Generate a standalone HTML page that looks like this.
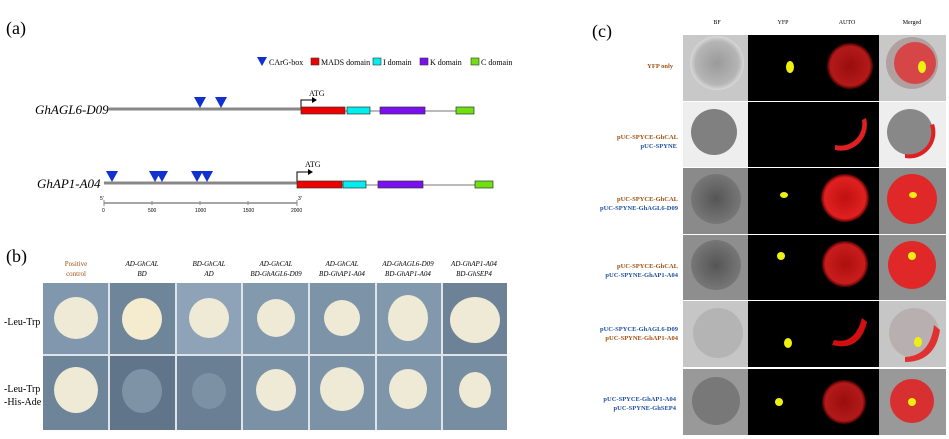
<!DOCTYPE html>
<html><head><style>
body{margin:0;background:#fff;}
svg{display:block;font-family:"Liberation Serif",serif;}
</style></head><body>
<svg width="949" height="439" viewBox="0 0 949 439" xmlns="http://www.w3.org/2000/svg">
<defs>
<radialGradient id="bf1" cx="50%" cy="50%" r="50%"><stop offset="0" stop-color="#9a9a9a"/><stop offset="0.8" stop-color="#b5b5b5"/><stop offset="1" stop-color="#d8d8d8"/></radialGradient>
<radialGradient id="dk" cx="50%" cy="50%" r="50%"><stop offset="0" stop-color="#555"/><stop offset="1" stop-color="#777"/></radialGradient>
<radialGradient id="red" cx="50%" cy="50%" r="50%"><stop offset="0" stop-color="#c01010"/><stop offset="0.85" stop-color="#e02020"/><stop offset="1" stop-color="#500"/></radialGradient>
</defs>
<text x="6" y="34" font-size="18">(a)</text>
<text x="6" y="262" font-size="18">(b)</text>
<text x="592" y="37" font-size="18">(c)</text>

<polygon points="257,57 267,57 262,66" fill="#1030d0"/>
<text x="269" y="65" font-size="8">CArG-box</text>
<rect x="311" y="58" width="8" height="7" fill="#e00" stroke="#333" stroke-width="0.6"/>
<text x="321" y="65" font-size="8">MADS domain</text>
<rect x="373" y="58" width="8" height="7" fill="#0ee" stroke="#333" stroke-width="0.6"/>
<text x="383" y="65" font-size="8">I domain</text>
<rect x="420" y="58" width="8" height="7" fill="#7a10f0" stroke="#333" stroke-width="0.6"/>
<text x="430" y="65" font-size="8">K domain</text>
<rect x="471" y="58" width="8" height="7" fill="#70e010" stroke="#333" stroke-width="0.6"/>
<text x="481" y="65" font-size="8">C domain</text>

<text x="35" y="114" font-size="13" font-style="italic">GhAGL6-D09</text>
<line x1="108" y1="109" x2="301" y2="109" stroke="#888" stroke-width="3"/>
<line x1="301" y1="111" x2="474" y2="111" stroke="#777" stroke-width="1"/>
<polygon points="194,97 206,97 200,108" fill="#1030d0"/>
<polygon points="215,97 227,97 221,108" fill="#1030d0"/>
<polyline points="301,108 301,100 313,100" fill="none" stroke="#000" stroke-width="1"/>
<polygon points="312,97 317,100 312,103" fill="#000"/>
<text x="309" y="96" font-size="8">ATG</text>
<rect x="301" y="107" width="44" height="7" fill="#e00" stroke="#333" stroke-width="0.7"/>
<rect x="347" y="107" width="23" height="7" fill="#0ee" stroke="#333" stroke-width="0.7"/>
<rect x="380" y="107" width="45" height="7" fill="#7a10f0" stroke="#333" stroke-width="0.7"/>
<rect x="456" y="107" width="18" height="7" fill="#70e010" stroke="#333" stroke-width="0.7"/>

<text x="37" y="188" font-size="13" font-style="italic">GhAP1-A04</text>
<line x1="104" y1="183" x2="297" y2="183" stroke="#888" stroke-width="3"/>
<line x1="297" y1="185" x2="493" y2="185" stroke="#777" stroke-width="1"/>
<polygon points="106,171 118,171 112,182" fill="#1030d0"/>
<polygon points="149,171 161,171 155,182" fill="#1030d0"/>
<polygon points="156,171 168,171 162,182" fill="#1030d0"/>
<polygon points="191,171 203,171 197,182" fill="#1030d0"/>
<polygon points="201,171 213,171 207,182" fill="#1030d0"/>
<polyline points="297,182 297,172 309,172" fill="none" stroke="#000" stroke-width="1"/>
<polygon points="308,169 313,172 308,175" fill="#000"/>
<text x="305" y="167" font-size="8">ATG</text>
<rect x="297" y="181" width="45" height="7" fill="#e00" stroke="#333" stroke-width="0.7"/>
<rect x="343" y="181" width="23" height="7" fill="#0ee" stroke="#333" stroke-width="0.7"/>
<rect x="378" y="181" width="45" height="7" fill="#7a10f0" stroke="#333" stroke-width="0.7"/>
<rect x="475" y="181" width="18" height="7" fill="#70e010" stroke="#333" stroke-width="0.7"/>

<line x1="104" y1="203" x2="297" y2="203" stroke="#888" stroke-width="1.5"/>
<g stroke="#888" stroke-width="1"><line x1="104" y1="200" x2="104" y2="206"/><line x1="152" y1="201" x2="152" y2="205"/><line x1="200" y1="201" x2="200" y2="205"/><line x1="248" y1="201" x2="248" y2="205"/><line x1="297" y1="200" x2="297" y2="206"/></g>
<g font-size="5" font-family="Liberation Sans,sans-serif"><text x="100" y="200">5'</text><text x="298" y="200">3'</text>
<text x="102" y="212">0</text><text x="148" y="212">500</text><text x="195" y="212">1000</text><text x="243" y="212">1500</text><text x="291" y="212">2000</text></g>

<g font-size="7" text-anchor="middle" font-style="italic">
<text x="76" y="266" font-style="normal" fill="#a05010">Positive</text><text x="76" y="276" font-style="normal" fill="#a05010">control</text>
<text x="142" y="266">AD-GhCAL</text><text x="142" y="276">BD</text>
<text x="209" y="266">BD-GhCAL</text><text x="209" y="276">AD</text>
<text x="276" y="266">AD-GhCAL</text><text x="276" y="276">BD-GhAGL6-D09</text>
<text x="342" y="266">AD-GhCAL</text><text x="342" y="276">BD-GhAP1-A04</text>
<text x="408" y="266">AD-GhAGL6-D09</text><text x="408" y="276">BD-GhAP1-A04</text>
<text x="474" y="266">AD-GhAP1-A04</text><text x="474" y="276">BD-GhSEP4</text>
</g>
<text x="4" y="325" font-size="10">-Leu-Trp</text>
<text x="4" y="392" font-size="10">-Leu-Trp</text>
<text x="4" y="405" font-size="10">-His-Ade</text>

<rect x="43" y="283" width="464" height="147" fill="#dfe4ea"/>
<g>
<rect x="43" y="283" width="65" height="71" fill="#8197ad"/>
<rect x="110" y="283" width="65" height="71" fill="#6f8599"/>
<rect x="177" y="283" width="64" height="71" fill="#8ea3b8"/>
<rect x="243" y="283" width="65" height="71" fill="#8399ae"/>
<rect x="310" y="283" width="65" height="71" fill="#7d93a8"/>
<rect x="377" y="283" width="64" height="71" fill="#8298ac"/>
<rect x="443" y="283" width="64" height="71" fill="#6d8296"/>
<rect x="43" y="356" width="65" height="74" fill="#6e8499"/>
<rect x="110" y="356" width="65" height="74" fill="#607589"/>
<rect x="177" y="356" width="64" height="74" fill="#6a7f93"/>
<rect x="243" y="356" width="65" height="74" fill="#7b91a6"/>
<rect x="310" y="356" width="65" height="74" fill="#7c92a7"/>
<rect x="377" y="356" width="64" height="74" fill="#7f95aa"/>
<rect x="443" y="356" width="64" height="74" fill="#778da2"/>
</g>
<g fill="#efead5">
<ellipse cx="76" cy="318" rx="22" ry="21"/>
<ellipse cx="142" cy="319" rx="20" ry="21" fill="#f5ecd0"/>
<ellipse cx="209" cy="318" rx="20" ry="20"/>
<ellipse cx="276" cy="318" rx="19" ry="19"/>
<ellipse cx="342" cy="318" rx="18" ry="18"/>
<ellipse cx="408" cy="318" rx="20" ry="23"/>
<ellipse cx="475" cy="320" rx="25" ry="23"/>
<ellipse cx="76" cy="390" rx="22" ry="23"/>
<ellipse cx="142" cy="391" rx="20" ry="22" fill="#7f93a6"/>
<ellipse cx="209" cy="391" rx="17" ry="18" fill="#7d91a4"/>
<ellipse cx="276" cy="390" rx="20" ry="21"/>
<ellipse cx="342" cy="389" rx="22" ry="22"/>
<ellipse cx="408" cy="389" rx="19" ry="20"/>
<ellipse cx="475" cy="390" rx="16" ry="18"/>
</g>

<g font-size="6" text-anchor="middle"><text x="717" y="24">BF</text><text x="783" y="24">YFP</text><text x="847" y="24">AUTO</text><text x="912" y="24">Merged</text></g>

<g font-size="6.5" text-anchor="end" font-weight="bold">
<text x="673" y="68" fill="#a05010">YFP only</text>
<text x="678" y="139" fill="#a05010">pUC-SPYCE-GhCAL</text><text x="677" y="148" fill="#2050a0">pUC-SPYNE</text>
<text x="678" y="201" fill="#a05010">pUC-SPYCE-GhCAL</text><text x="678" y="210" fill="#2050a0">pUC-SPYNE-GhAGL6-D09</text>
<text x="678" y="268" fill="#a05010">pUC-SPYCE-GhCAL</text><text x="678" y="277" fill="#2050a0">pUC-SPYNE-GhAP1-A04</text>
<text x="678" y="331" fill="#2050a0">pUC-SPYCE-GhAGL6-D09</text><text x="678" y="340" fill="#a05010">pUC-SPYNE-GhAP1-A04</text>
<text x="676" y="401" fill="#2050a0">pUC-SPYCE-GhAP1-A04</text><text x="676" y="410" fill="#2050a0">pUC-SPYNE-GhSEP4</text>
</g>

<g>
<rect x="683" y="35" width="65" height="66" fill="#c8c8c8"/>
<rect x="683" y="102" width="65" height="65" fill="#eeeeee"/>
<rect x="683" y="168" width="65" height="66" fill="#8a8a8a"/>
<rect x="683" y="235" width="65" height="65" fill="#8e8e8e"/>
<rect x="683" y="301" width="65" height="66" fill="#c6c6c6"/>
<rect x="683" y="369" width="65" height="66" fill="#999"/>
<circle cx="717" cy="63" r="27" fill="url(#bf1)"/>
<circle cx="714" cy="132" r="23" fill="#808080"/>
<circle cx="716" cy="199" r="25" fill="url(#dk)"/>
<circle cx="716" cy="265" r="25" fill="url(#dk)"/>
<circle cx="718" cy="333" r="25" fill="#b4b4b4"/>
<circle cx="716" cy="401" r="24" fill="#787878"/>
<rect x="748" y="35" width="131" height="400" fill="#000"/>
<rect x="879" y="35" width="67" height="66" fill="#c8c8c8"/>
<rect x="879" y="102" width="67" height="65" fill="#eeeeee"/>
<rect x="879" y="168" width="67" height="66" fill="#8a8a8a"/>
<rect x="879" y="235" width="67" height="65" fill="#8e8e8e"/>
<rect x="879" y="301" width="67" height="66" fill="#c6c6c6"/>
<rect x="879" y="369" width="67" height="66" fill="#999"/>
<g fill="#fff"><rect x="683" y="101" width="263" height="1"/><rect x="683" y="167" width="263" height="1"/><rect x="683" y="234" width="263" height="1"/><rect x="683" y="300" width="263" height="1"/><rect x="683" y="367" width="263" height="2"/></g>
<circle cx="850" cy="66" r="23" fill="url(#red)" opacity="0.8"/>
<path d="M835,145 A22,22 0 0 0 862,120 L866,118 A26,26 0 0 1 835,150 Z" fill="#e02020"/>
<circle cx="845" cy="198" r="24" fill="url(#red)"/>
<circle cx="845" cy="264" r="23" fill="url(#red)" opacity="0.9"/>
<path d="M834,340 Q855,345 862,318 L867,322 Q860,352 832,345 Z" fill="#d01010"/>
<circle cx="844" cy="402" r="22" fill="url(#red)" opacity="0.8"/>
<circle cx="912" cy="63" r="26" fill="#b0a0a0"/><circle cx="915" cy="63" r="21" fill="#e03030" opacity="0.8"/>
<circle cx="910" cy="132" r="23" fill="#888"/><path d="M905,154 A22,22 0 0 0 930,125 L934,124 A26,26 0 0 1 905,158 Z" fill="#e02020"/>
<circle cx="912" cy="199" r="25" fill="#e02828"/>
<circle cx="912" cy="265" r="24" fill="#e02828"/>
<circle cx="914" cy="333" r="25" fill="#b8b0b0"/><path d="M905,357 Q930,356 934,325 L940,330 Q935,362 905,362 Z" fill="#e03030"/>
<circle cx="912" cy="401" r="22" fill="#d83030"/>
<g fill="#f0f010">
<ellipse cx="790" cy="67" rx="4" ry="6"/>
<ellipse cx="784" cy="195" rx="4" ry="3"/>
<ellipse cx="781" cy="256" rx="4" ry="4"/>
<ellipse cx="788" cy="343" rx="4" ry="5"/>
<ellipse cx="779" cy="402" rx="4" ry="4"/>
<ellipse cx="922" cy="67" rx="4" ry="6"/>
<ellipse cx="913" cy="195" rx="4" ry="3"/>
<ellipse cx="912" cy="256" rx="4" ry="4"/>
<ellipse cx="918" cy="342" rx="4" ry="5"/>
<ellipse cx="912" cy="402" rx="4" ry="4"/>
</g>
</g>
</svg>
</body></html>
